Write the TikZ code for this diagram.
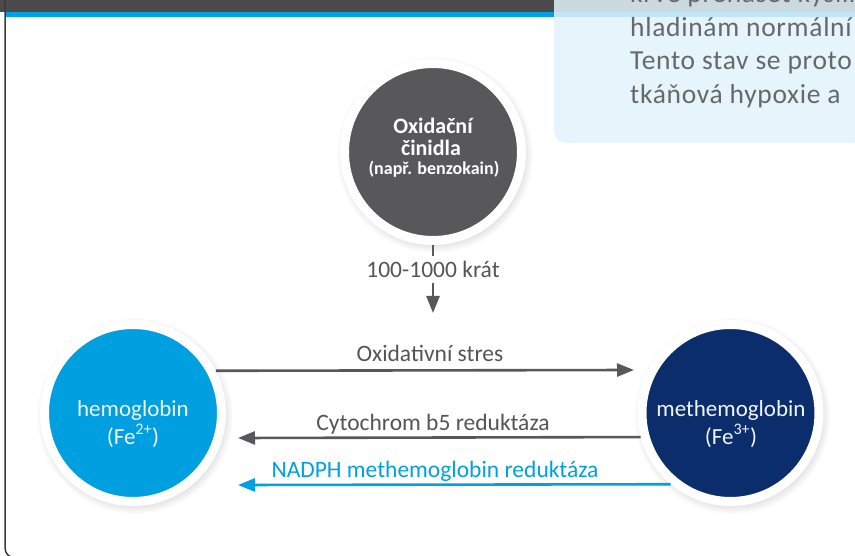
\documentclass[tikz,border=0pt]{standalone}
\usepackage{fontspec}
\setmainfont{Carlito}
\newfontfamily\panelfont{Carlito}[LetterSpace=2.5]
\usetikzlibrary{arrows.meta,calc}

\definecolor{bargray}{HTML}{4B4B4D}
\definecolor{stripblue}{HTML}{00A0E3}
\definecolor{panelblue}{HTML}{E2F3FB}
\definecolor{paneltext}{HTML}{68686A}
\definecolor{agentgray}{HTML}{58585A}
\definecolor{hbblue}{HTML}{009FE0}
\definecolor{metnavy}{HTML}{0B2D6B}
\definecolor{linegray}{HTML}{58585A}
\definecolor{labelgray}{HTML}{555557}
\definecolor{bordergray}{HTML}{3A3A3C}
\definecolor{softwhite}{HTML}{EEF6FB}

\tikzset{
  species/.style={circle, draw=white, line width=9pt, minimum size=177pt,
    inner sep=0pt},
  speciestxt/.style={anchor=base, inner sep=0pt, text=softwhite,
    font=\fontsize{23}{23}\selectfont},
  agenttxt/.style={anchor=base, inner sep=0pt, text=white,
    font=\bfseries\fontsize{22}{22}\selectfont},
  flow/.style={line width=2.6pt, -{Triangle[length=17pt,width=13pt]}},
  flowlabel/.style={anchor=base, inner sep=0pt, font=\fontsize{23.5}{23.5}\selectfont},
  paneltxt/.style={anchor=base west, inner sep=0pt, text=paneltext,
    font=\panelfont\fontsize{27.5}{27.5}\selectfont},
  softshadow/.style={black, opacity=0.012},
}

\begin{document}
\begin{tikzpicture}[x=1pt,y=-1pt]
  \clip (0,0) rectangle (855,556);
  \fill[white] (0,0) rectangle (855,556);

  % header bar and accent strip
  \fill[bargray] (0,0) rectangle (855,12);
  \fill[stripblue] (6,12) rectangle (855,17);

  % frame of the card
  \draw[bordergray, line width=1.5pt, rounded corners=10pt]
    (5,0) -- (5,558) -- (860,558);

  % side note panel
  \fill[panelblue, opacity=0.85, rounded corners=12pt] (554,-20) rectangle (880,143);
  \node[paneltxt] (p1) at (630,3)     {krve přenášet kyslík};
  \node[paneltxt] (p2) at (630,36.5)  {hladinám normální};
  \node[paneltxt] (p3) at (630,70)    {Tento stav se proto};
  \node[paneltxt] (p4) at (630,103.5) {tkáňová hypoxie a};

  % soft shadows under the circles
  \foreach \cx/\cy in {433/152, 133/413, 730.5/413}
    \foreach \i in {0,...,10}
      \fill[softshadow] (\cx+2,\cy+3) circle (88+\i);

  % circles
  \node[species, fill=agentgray] (ox) at (433,152) {};
  \node[species, fill=hbblue] (hb) at (133,413) {};
  \node[species, fill=metnavy] (mhb) at (730.5,413) {};

  % circle captions
  \node[agenttxt] (ox1) at (433,134) {Oxidační};
  \node[agenttxt] (ox2) at (431,155.5) {činidla};
  \node[agenttxt, font=\bfseries\fontsize{18}{18}\selectfont] (ox3) at (434,174.5) {(např. benzokain)};
  \node[speciestxt] (hb1) at (133,417) {hemoglobin};
  \node[speciestxt] (hb2) at (133,444) {(Fe\textsuperscript{2+})};
  \node[speciestxt] (mhb1) at (731,417) {methemoglobin};
  \node[speciestxt] (mhb2) at (731,444) {(Fe\textsuperscript{3+})};

  % free ends of the arrows
  \coordinate (oxtip) at (433,313);
  \coordinate (ostip) at (634,370);
  \coordinate (cbtip) at (238,438);
  \coordinate (nadtip) at (238,485);

  % oxidising agent feeding the conversion
  \node[flowlabel, text=labelgray, inner ysep=5pt] (k) at (433,278) {100-1000 krát};
  \draw[linegray, line width=2.6pt] (ox) -- (k);
  \draw[flow, linegray] (k) -- (oxtip);

  % conversions between the two forms
  \draw[flow, linegray] (hb.27.5) -- (ostip);
  \node[flowlabel, text=labelgray] (os) at (430,362) {Oxidativní stres};

  \draw[flow, linegray] (mhb.195.6) -- (cbtip);
  \node[flowlabel, text=labelgray] (cb) at (433,430) {Cytochrom b5 reduktáza};

  \draw[flow, stripblue] (mhb.230.7) -- (nadtip);
  \node[flowlabel, text=stripblue] (nad) at (435,477) {NADPH methemoglobin reduktáza};
\end{tikzpicture}
\end{document}
